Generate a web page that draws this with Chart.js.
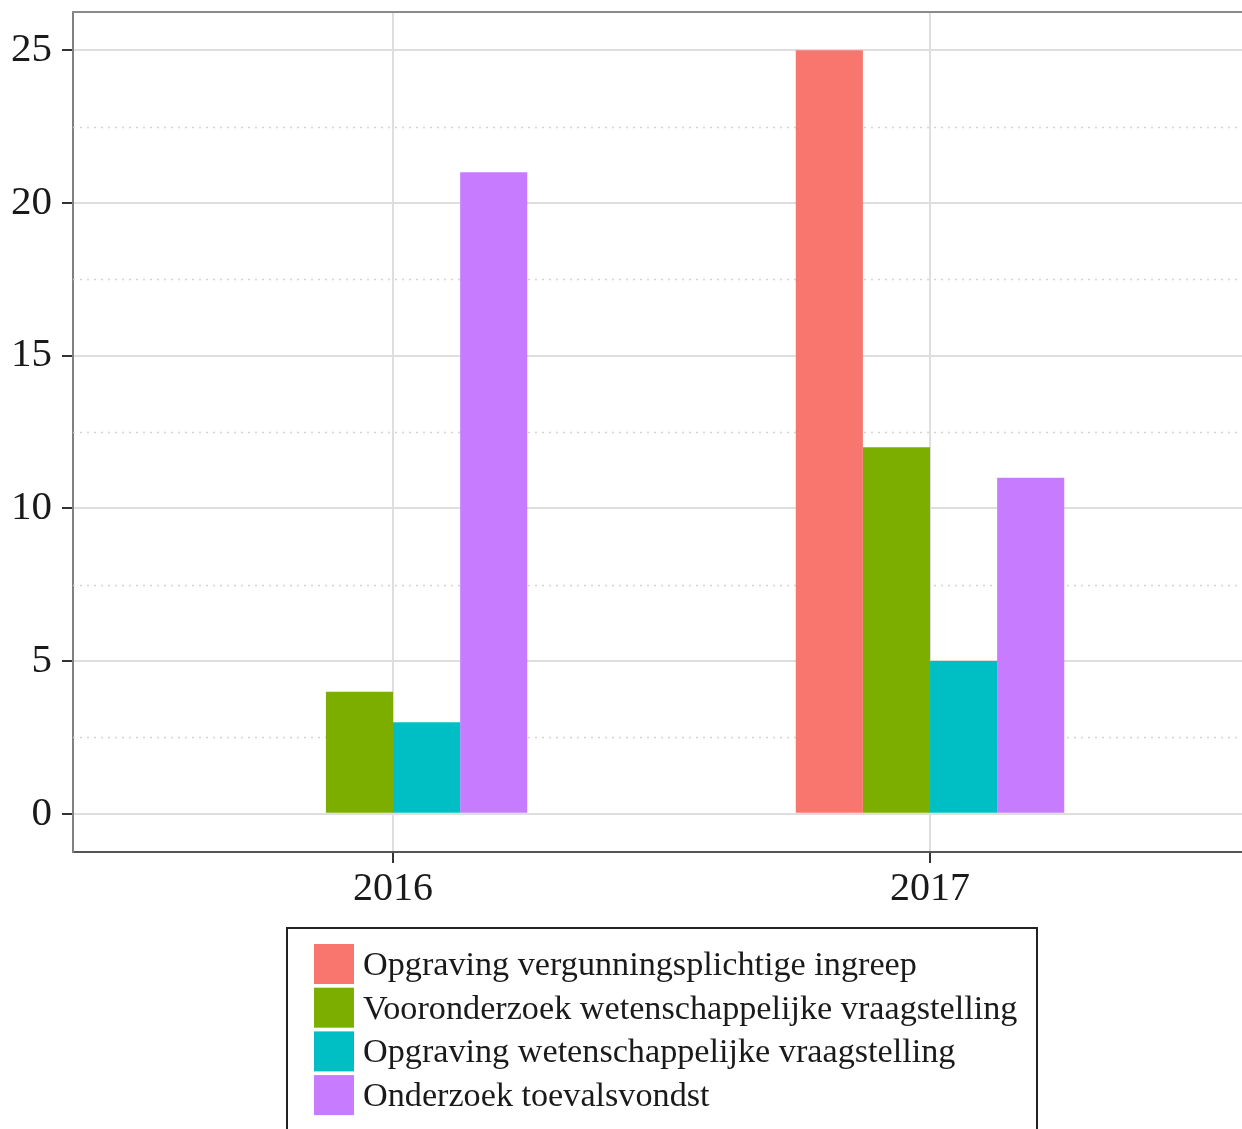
<!DOCTYPE html>
<html><head><meta charset="utf-8">
<script src="https://cdn.jsdelivr.net/npm/chart.js@4/dist/chart.umd.min.js"></script>
<style>html,body{margin:0;padding:0;background:#fff;overflow:hidden}</style>
</head><body>
<canvas id="c" width="1242" height="1129"></canvas>
<script>
const categories = ['2016', '2017'];
const seriesNames = [
  'Opgraving vergunningsplichtige ingreep',
  'Vooronderzoek wetenschappelijke vraagstelling',
  'Opgraving wetenschappelijke vraagstelling',
  'Onderzoek toevalsvondst'
];
const opgravingVergunning = [null, 25];
const vooronderzoekWetenschap = [4, 12];
const opgravingWetenschap = [3, 5];
const onderzoekToevalsvondst = [21, 11];
const seriesColors = ['#F8766D', '#7CAE00', '#00BFC4', '#C77CFF'];
const yTicks = [0, 5, 10, 15, 20, 25];
const yMinorTicks = [2.5, 7.5, 12.5, 17.5, 22.5];

const FONT = '"Liberation Serif", "Times New Roman", serif';
const seriesValues = [opgravingVergunning, vooronderzoekWetenschap, opgravingWetenschap, onderzoekToevalsvondst];

const datasets = seriesValues.map((vals, i) => ({
  label: seriesNames[i],
  data: vals.map((v, j) => ({ x: j + 1, y: v })),
  backgroundColor: seriesColors[i],
  borderWidth: 0,
  categoryPercentage: 0.5,
  barPercentage: 1.0
}));

const extras = {
  id: 'extras',
  beforeDatasetsDraw(chart) {
    const { ctx, chartArea: a, scales: { y } } = chart;
    ctx.save();
    ctx.strokeStyle = '#d4d4d4';
    ctx.lineWidth = 1.3;
    ctx.setLineDash([2, 5]);
    yMinorTicks.forEach(v => {
      const py = Math.round(y.getPixelForValue(v)) + 0.5;
      ctx.beginPath(); ctx.moveTo(a.left, py); ctx.lineTo(a.right, py); ctx.stroke();
    });
    ctx.restore();
  },
  afterDraw(chart) {
    const { ctx, chartArea: a } = chart;
    ctx.save();
    ctx.strokeStyle = '#8a8a8a';
    ctx.lineWidth = 2;
    ctx.beginPath(); ctx.moveTo(a.left - 1, a.top); ctx.lineTo(a.right, a.top); ctx.stroke();
    // legend
    const bx = 287, by = 928, bw = 750, bh = 240;
    ctx.strokeStyle = '#222';
    ctx.lineWidth = 2;
    ctx.strokeRect(bx, by, bw, bh);
    ctx.font = '34.2px ' + FONT;
    ctx.textBaseline = 'middle';
    chart.data.datasets.forEach((d, i) => {
      const ky = 944 + i * 43.7;
      ctx.fillStyle = d.backgroundColor;
      ctx.fillRect(314, ky, 40, 40);
      ctx.fillStyle = '#1a1a1a';
      ctx.fillText(d.label, 363, ky + 22);
    });
    ctx.restore();
  }
};

const noPad = s => { s.paddingTop = 0; s.paddingBottom = 0; s.paddingLeft = 0; s.paddingRight = 0; };

new Chart(document.getElementById('c'), {
  type: 'bar',
  data: { datasets },
  options: {
    responsive: false,
    animation: false,
    events: [],
    layout: { padding: { top: 12, left: 0, right: 0, bottom: 215 } },
    plugins: { legend: { display: false }, tooltip: { enabled: false } },
    scales: {
      x: {
        type: 'linear', min: 0.404, max: 2.581, offset: false,
        afterBuildTicks: s => { s.ticks = categories.map((c, i) => ({ value: i + 1 })); },
        afterFit: s => { s.height = 62; noPad(s); },
        ticks: {
          callback: (v, i) => categories[i],
          font: { family: FONT, size: 40 }, color: '#1a1a1a', padding: 2,
          autoSkip: false, maxRotation: 0
        },
        grid: { offset: false, color: '#dedede', lineWidth: 2, tickLength: 11, tickColor: '#333', tickWidth: 2 },
        border: { color: '#555', width: 2 }
      },
      y: {
        min: -1.25, max: 26.25,
        afterBuildTicks: s => { s.ticks = yTicks.map(v => ({ value: v })); },
        afterFit: s => { s.width = 73; noPad(s); },
        ticks: {
          callback: (v, i) => String(yTicks[i]),
          font: { family: FONT, size: 41 }, color: '#1a1a1a', padding: 10
        },
        grid: { color: '#dedede', lineWidth: 2, tickLength: 11, tickColor: '#333', tickWidth: 2 },
        border: { color: '#808080', width: 2 }
      }
    }
  },
  plugins: [extras]
});
</script>
</body></html>
